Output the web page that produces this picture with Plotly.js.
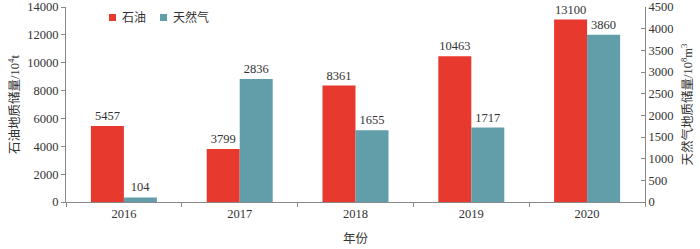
<!DOCTYPE html>
<html><head><meta charset="utf-8">
<script src="https://cdn.plot.ly/plotly-3.0.1.min.js"></script>
<style>body{margin:0;padding:0;background:#fff}#c{width:700px;height:249px}</style>
</head><body><div id="c"></div>
<script>
var years = ['2016','2017','2018','2019','2020'];
var oilValues = [5457, 3799, 8361, 10463, 13100];
var gasValues = [104, 2836, 1655, 1717, 3860];
var oilName = '石油';
var gasName = '天然气';
var oilColor = '#E8392F';
var gasColor = '#629EA9';

var FONT = '"Liberation Serif", "Times New Roman", "Noto Sans CJK SC", serif';
var TXT = '#333333';

var traces = [
  {type:'bar', name:oilName, x:years, y:oilValues, yaxis:'y',
   marker:{color:oilColor}, text:oilValues.map(String), textposition:'outside',
   textfont:{family:FONT,size:12.5,color:TXT}, cliponaxis:false, offsetgroup:'a'},
  {type:'bar', name:gasName, x:years, y:gasValues, yaxis:'y2',
   marker:{color:gasColor}, text:gasValues.map(String), textposition:'outside',
   textfont:{family:FONT,size:12.5,color:TXT}, cliponaxis:false, offsetgroup:'b'}
];

// plot area pixel geometry (for the hand-drawn legend)
var L = 66, R = 55, T = 7, B = 47, W = 700, H = 249;
var pw = W - L - R, ph = H - T - B;
function px(x){ return (x - L) / pw; }
function py(y){ return (H - B - y) / ph; }

var legendItems = [
  {name:oilName, color:oilColor, sq:109, tx:120},
  {name:gasName, color:gasColor, sq:160, tx:171}
];
var shapes = [], annotations = [];
legendItems.forEach(function(it){
  shapes.push({type:'rect', xref:'paper', yref:'paper',
    x0:px(it.sq), x1:px(it.sq+7), y0:py(21), y1:py(14),
    fillcolor:it.color, line:{width:0}});
  annotations.push({xref:'paper', yref:'paper', x:px(it.tx), y:py(17.5),
    xanchor:'left', yanchor:'middle', showarrow:false, text:it.name,
    font:{family:FONT, size:12, color:TXT}});
});

var layout = {
  width:W, height:H,
  margin:{l:L, r:R, t:T, b:B},
  paper_bgcolor:'#fff', plot_bgcolor:'#fff',
  font:{family:FONT, size:12, color:TXT},
  barmode:'group', bargap:0.43, bargroupgap:0,
  showlegend:false,
  shapes:shapes, annotations:annotations,
  xaxis:{type:'category', showline:true, linecolor:'#888', linewidth:1,
         ticks:'outside', tickson:'boundaries', ticklen:4, tickcolor:'#888',
         tickfont:{family:FONT,size:12.5,color:TXT}, showgrid:false, zeroline:false,
         automargin:false,
         title:{text:'年份', font:{family:FONT,size:12.5,color:TXT}, standoff:14}},
  yaxis:{range:[0,14000], dtick:2000, tickformat:'d', showline:true, linecolor:'#888', linewidth:1,
         ticks:'outside', ticklen:4, tickcolor:'#888', showgrid:false, zeroline:false,
         tickfont:{family:FONT,size:12.5,color:TXT}, automargin:false,
         title:{text:'石油地质储量/10<sup>4</sup>t', font:{family:FONT,size:12.5,color:TXT}, standoff:4}},
  yaxis2:{range:[0,4500], dtick:500, tickformat:'d', overlaying:'y', side:'right', showline:true,
          linecolor:'#888', linewidth:1, ticks:'inside', ticklen:4, tickcolor:'#888',
          showgrid:false, zeroline:false, tickfont:{family:FONT,size:12.5,color:TXT},
          automargin:false,
          title:{text:'天然气地质储量/10<sup>8</sup>m<sup>3</sup>', font:{family:FONT,size:12.5,color:TXT}, standoff:10}}
};

Plotly.newPlot('c', traces, layout, {displayModeBar:false, staticPlot:true});
</script></body></html>
